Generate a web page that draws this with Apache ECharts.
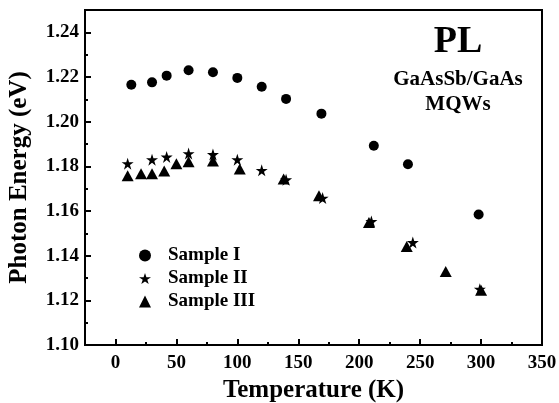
<!DOCTYPE html>
<html>
<head>
<meta charset="utf-8">
<script src="https://cdn.jsdelivr.net/npm/echarts@6/dist/echarts.min.js"></script>
<style>html,body{margin:0;padding:0;background:#fff;}#c{width:559px;height:403px;}</style>
</head>
<body>
<div id="c"></div>
<script>
var tempI = [13, 30, 42, 60, 80, 100, 120, 140, 169, 212, 240, 298];
var energyI = [1.2165, 1.2176, 1.2206, 1.2230, 1.2221, 1.2196, 1.2156, 1.2102, 1.2036, 1.1892, 1.1809, 1.1584];
var tempII = [10, 30, 42, 60, 80, 100, 120, 140, 170, 210, 244, 299];
var energyII = [1.1812, 1.1830, 1.1842, 1.1857, 1.1853, 1.1830, 1.1782, 1.1740, 1.1658, 1.1553, 1.1459, 1.1250];
var tempIII = [10, 21, 30, 40, 50, 60, 80, 102, 138, 167, 208, 239, 271, 300];
var energyIII = [1.1758, 1.1767, 1.1767, 1.1779, 1.1812, 1.1821, 1.1824, 1.1788, 1.1743, 1.1668, 1.1548, 1.1441, 1.1329, 1.1245];
var seriesNames = ['Sample I', 'Sample II', 'Sample III'];
var xMajor = [0, 50, 100, 150, 200, 250, 300, 350];
var xMinor = [25, 75, 125, 175, 225, 275, 325];
var yMajor = [1.10, 1.12, 1.14, 1.16, 1.18, 1.20, 1.22, 1.24];
var yMinor = [1.11, 1.13, 1.15, 1.17, 1.19, 1.21, 1.23];

function zip(a, b) { return a.map(function (v, i) { return [v, b[i]]; }); }
var FONT = 'Liberation Serif';
var chart = echarts.init(document.getElementById('c'));
chart.setOption({
  animation: false,
  backgroundColor: '#fff',
  grid: { left: 85, right: 17, top: 10, bottom: 58, containLabel: false, outerBoundsMode: 'none',
    show: true, borderColor: '#000', borderWidth: 2, backgroundColor: 'transparent' },
  xAxis: [{
    type: 'value', min: -25, max: 350,
    name: 'Temperature (K)', nameLocation: 'middle', nameGap: 31,
    nameTextStyle: { fontFamily: FONT, fontWeight: 'bold', fontSize: 25, color: '#000' },
    axisLine: { show: true, onZero: false, lineStyle: { color: '#000', width: 2 } },
    axisTick: { show: true, inside: true, length: 6, lineStyle: { color: '#000', width: 2 }, customValues: xMajor },
    axisLabel: { fontFamily: FONT, fontWeight: 'bold', fontSize: 19, color: '#000', margin: 9, customValues: xMajor },
    splitLine: { show: false }
  }, {
    type: 'value', min: -25, max: 350, position: 'bottom',
    axisLine: { show: false, onZero: false },
    axisTick: { show: true, inside: true, length: 3, lineStyle: { color: '#000', width: 2 }, customValues: xMinor },
    axisLabel: { show: false },
    splitLine: { show: false }
  }],
  yAxis: [{
    type: 'value', min: 1.10, max: 1.25,
    name: 'Photon Energy (eV)', nameLocation: 'middle', nameGap: 53, nameRotate: 90,
    nameTextStyle: { fontFamily: FONT, fontWeight: 'bold', fontSize: 25, color: '#000' },
    axisLine: { show: true, onZero: false, lineStyle: { color: '#000', width: 2 } },
    axisTick: { show: true, inside: true, length: 6, lineStyle: { color: '#000', width: 2 }, customValues: yMajor },
    axisLabel: { fontFamily: FONT, fontWeight: 'bold', fontSize: 19, color: '#000', margin: 6, customValues: yMajor,
      formatter: function (v) { return v.toFixed(2); } },
    splitLine: { show: false }
  }, {
    type: 'value', min: 1.10, max: 1.25, position: 'left',
    axisLine: { show: false, onZero: false },
    axisTick: { show: true, inside: true, length: 3, lineStyle: { color: '#000', width: 2 }, customValues: yMinor },
    axisLabel: { show: false },
    splitLine: { show: false }
  }],
  legend: {
    orient: 'vertical', left: 134, top: 241, itemGap: 4, itemWidth: 12, itemHeight: 12,
    data: seriesNames,
    textStyle: { fontFamily: FONT, fontWeight: 'bold', fontSize: 19, color: '#000', padding: [0, 0, 0, 12] }
  },
  graphic: [
    { type: 'text', style: { text: 'PL', x: 458, y: 42, textAlign: 'center', textVerticalAlign: 'middle', fontFamily: FONT, fontWeight: 'bold', fontSize: 38, fill: '#000' } },
    { type: 'text', style: { text: 'GaAsSb/GaAs', x: 458, y: 80, textAlign: 'center', textVerticalAlign: 'middle', fontFamily: FONT, fontWeight: 'bold', fontSize: 21, fill: '#000' } },
    { type: 'text', style: { text: 'MQWs', x: 458, y: 105, textAlign: 'center', textVerticalAlign: 'middle', fontFamily: FONT, fontWeight: 'bold', fontSize: 21, fill: '#000' } }
  ],
  series: [
    { name: seriesNames[0], type: 'scatter', xAxisIndex: 0, yAxisIndex: 0, symbol: 'circle', symbolSize: 10, itemStyle: { color: '#000', opacity: 1 }, data: zip(tempI, energyI) },
    { name: seriesNames[1], type: 'scatter', xAxisIndex: 0, yAxisIndex: 0, symbol: 'path://M50,0 L61.8,35.5 L100,35.5 L69,57.6 L80.9,93 L50,71 L19.1,93 L31,57.6 L0,35.5 L38.2,35.5 Z', symbolSize: 12, itemStyle: { color: '#000', opacity: 1 }, data: zip(tempII, energyII) },
    { name: seriesNames[2], type: 'scatter', xAxisIndex: 0, yAxisIndex: 0, symbol: 'triangle', symbolSize: [12, 11], itemStyle: { color: '#000', opacity: 1 }, data: zip(tempIII, energyIII) }
  ]
});
</script>
</body>
</html>
